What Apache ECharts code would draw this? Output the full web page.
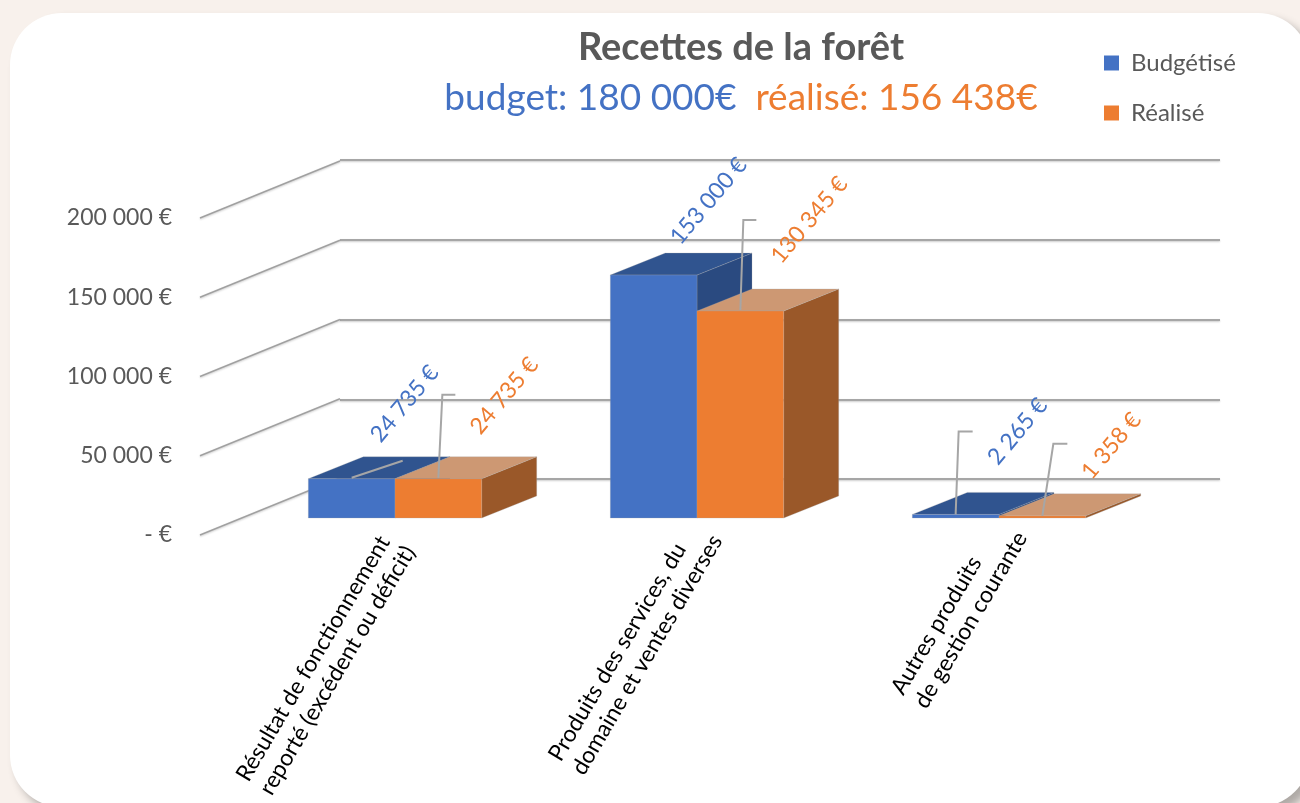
<!DOCTYPE html>
<html>
<head>
<meta charset="utf-8">
<title>Recettes de la forêt</title>
<script src="https://cdn.jsdelivr.net/npm/echarts@6/dist/echarts.min.js"></script>
<style>
  html, body { margin: 0; padding: 0; background: #f8f1ec; }
  #chart { width: 1300px; height: 803px; }
</style>
</head>
<body>
<div id="chart"></div>
<script>
const categories = [
  'Résultat de fonctionnement\nreporté (excédent ou déficit)',
  'Produits des services, du\ndomaine et ventes diverses',
  'Autres produits\nde gestion courante'
]
const budgetise = [24735, 153000, 2265]
const realise = [24735, 130345, 1358]
const yTicks = [0, 50000, 100000, 150000, 200000]
const yMax = 200000
const yStep = 50000

const titleText = 'Recettes de la forêt'
const budgetText = 'budget: 180 000€'
const realiseText = 'réalisé: 156 438€'

const BLUE = { front: '#4472c4', top: '#30548f', side: '#2a4a80' }
const ORANGE = { front: '#ed7d31', top: '#cd9873', side: '#9a5829' }
const FONT = 'Lato, sans-serif'

// 3d depth of the bars and of the side wall, in pixels
const BAR_W = 86.7
const BAR_DX = 55
const BAR_DY = -22
const WALL_DX = 140
const WALL_DY = -57

// labels were moved by hand in the original, offsets from the top of the front face
const blueLabelPos = [[53, -75], [55, -74], [62, -83]]
const orangeLabelPos = [[66, -83], [69, -91], [69, -70]]
const blueLeaders = [[[0, -1], [51, -18]], null, [[0, 0], [3, -83], [17, -83]]]
const orangeLeaders = [[[0, -1], [4, -84], [17, -84]], [[0, -1], [3, -91], [16, -91]], [[0, 0], [11, -72], [25, -72]]]
const catLabelPos = [[3, 23], [8, 12], [11, 9]]

function fmtEuro (v) {
  if (v === 0) return '- €'
  return String(v).replace(/\B(?=(\d{3})+$)/g, ' ') + ' €'
}

function barSeries (name, values, colors, side, labelPos, leaders) {
  return {
    name: name,
    type: 'custom',
    xAxisIndex: 0,
    yAxisIndex: 0,
    itemStyle: { color: colors.front },
    z: side < 0 ? 5 : 6,
    data: values.map((v, i) => [i, v]),
    renderItem (params, api) {
      const i = api.value(0)
      const v = api.value(1)
      const top = api.coord([i, v])
      const base = api.coord([i, 0])
      const x0 = side < 0 ? top[0] - BAR_W : top[0]
      const x1 = x0 + BAR_W
      const yT = top[1]
      const yB = base[1]
      const mid = (x0 + x1) / 2
      const edge = { stroke: 'rgba(170,170,170,0.45)', lineWidth: 0.6 }
      const poly = (points, fill) => ({ type: 'polygon', shape: { points }, style: Object.assign({ fill }, edge) })
      const children = [
        poly([[x1, yT], [x1 + BAR_DX, yT + BAR_DY], [x1 + BAR_DX, yB + BAR_DY], [x1, yB]], colors.side),
        poly([[x0, yT], [x0 + BAR_DX, yT + BAR_DY], [x1 + BAR_DX, yT + BAR_DY], [x1, yT]], colors.top),
        poly([[x0, yT], [x1, yT], [x1, yB], [x0, yB]], colors.front)
      ]
      if (leaders[i]) {
        children.push({
          type: 'polyline',
          shape: { points: leaders[i].map(p => [mid + p[0], yT + p[1]]) },
          style: { fill: null, stroke: '#a6a6a6', lineWidth: 2 }
        })
      }
      children.push({
        type: 'text',
        x: mid + labelPos[i][0],
        y: yT + labelPos[i][1],
        rotation: 50 * Math.PI / 180,
        style: {
          text: fmtEuro(v),
          fill: colors.front,
          font: '23px ' + FONT,
          align: 'center',
          verticalAlign: 'middle'
        }
      })
      return { type: 'group', children }
    }
  }
}

const chart = echarts.init(document.getElementById('chart'))

const measure = document.createElement('canvas').getContext('2d')
const CAT_FONT = '23px ' + FONT
const CAT_ANGLE = 59.5 * Math.PI / 180

chart.setOption({
  animation: false,
  backgroundColor: '#f8f1ec',
  graphic: [{
    type: 'rect',
    z: -10,
    silent: true,
    shape: { x: 10, y: 13, width: 1300, height: 794, r: 52 },
    style: { fill: '#fff', shadowColor: 'rgba(0,0,0,0.3)', shadowBlur: 10, shadowOffsetX: 7, shadowOffsetY: 7 }
  }],
  title: {
    left: 736,
    top: 24,
    textAlign: 'center',
    text: titleText,
    textStyle: { fontFamily: FONT, fontSize: 38, fontWeight: 'bold', color: '#595959' },
    subtext: '{a|' + budgetText + '  }{b|' + realiseText + '}',
    subtextStyle: {
      rich: {
        a: { fontFamily: FONT, fontSize: 37, color: BLUE.front },
        b: { fontFamily: FONT, fontSize: 37, color: ORANGE.front }
      }
    },
    itemGap: 13
  },
  legend: {
    orient: 'vertical',
    left: 1099,
    top: 46,
    itemWidth: 15,
    itemHeight: 15,
    itemGap: 26,
    icon: 'rect',
    textStyle: { fontFamily: FONT, fontSize: 24, color: '#595959', padding: [0, 0, 0, 7] },
    data: ['Budgétisé', 'Réalisé']
  },
  grid: [
    // plane the bars stand on
    { left: 244, top: 200.4, width: 906, height: 317.6 },
    // back wall
    { left: 340, top: 160, width: 880, height: 319 },
    // front edge of the side wall, carries the value labels
    { left: 200, top: 218, width: 880, height: 317 }
  ],
  xAxis: [
    { gridIndex: 0, type: 'category', data: categories, show: false },
    { gridIndex: 1, type: 'category', data: categories, show: false },
    { gridIndex: 2, type: 'category', data: categories, show: false }
  ],
  yAxis: [
    { gridIndex: 0, type: 'value', min: 0, max: yMax, interval: yStep, show: false },
    {
      gridIndex: 1,
      type: 'value',
      min: 0,
      max: yMax,
      interval: yStep,
      axisLine: { show: false },
      axisTick: { show: false },
      axisLabel: { show: false },
      splitLine: {
        show: true,
        lineStyle: { color: '#a6a6a6', width: 2, shadowColor: 'rgba(0,0,0,0.2)', shadowBlur: 2, shadowOffsetY: 1 }
      }
    },
    {
      gridIndex: 2,
      type: 'value',
      min: 0,
      max: yMax,
      interval: yStep,
      axisLine: { show: false },
      axisTick: { show: false },
      splitLine: { show: false },
      axisLabel: {
        margin: 28,
        fontFamily: FONT,
        fontSize: 23,
        color: '#595959',
        padding: [3, 0, 0, 0],
        formatter: fmtEuro
      }
    }
  ],
  series: [
    // side wall lines
    {
      type: 'custom',
      xAxisIndex: 2,
      yAxisIndex: 2,
      z: 1,
      silent: true,
      data: yTicks.map(v => [0, v]),
      renderItem (params, api) {
        const p = api.coord([0, api.value(1)])
        const x = params.coordSys.x
        return {
          type: 'line',
          shape: { x1: x, y1: p[1], x2: x + WALL_DX, y2: p[1] + WALL_DY },
          style: { stroke: '#a0a0a0', lineWidth: 1.5, shadowColor: 'rgba(0,0,0,0.2)', shadowBlur: 2, shadowOffsetY: 1 }
        }
      }
    },
    barSeries('Budgétisé', budgetise, BLUE, -1, blueLabelPos, blueLeaders),
    barSeries('Réalisé', realise, ORANGE, 1, orangeLabelPos, orangeLeaders),
    // category labels, lines start together and the longest one ends under the bars
    {
      type: 'custom',
      xAxisIndex: 0,
      yAxisIndex: 0,
      z: 7,
      silent: true,
      data: categories.map((c, i) => [i, 0]),
      renderItem (params, api) {
        const i = api.value(0)
        const p = api.coord([i, 0])
        const text = categories[i]
        measure.font = CAT_FONT
        const len = Math.max(...text.split('\n').map(s => measure.measureText(s).width))
        return {
          type: 'text',
          x: p[0] + catLabelPos[i][0] - Math.cos(CAT_ANGLE) * len,
          y: p[1] + catLabelPos[i][1] + Math.sin(CAT_ANGLE) * len,
          rotation: CAT_ANGLE,
          style: {
            text,
            fill: '#000',
            font: CAT_FONT,
            lineHeight: 27,
            align: 'left',
            verticalAlign: 'middle'
          }
        }
      }
    }
  ]
})
</script>
</body>
</html>
